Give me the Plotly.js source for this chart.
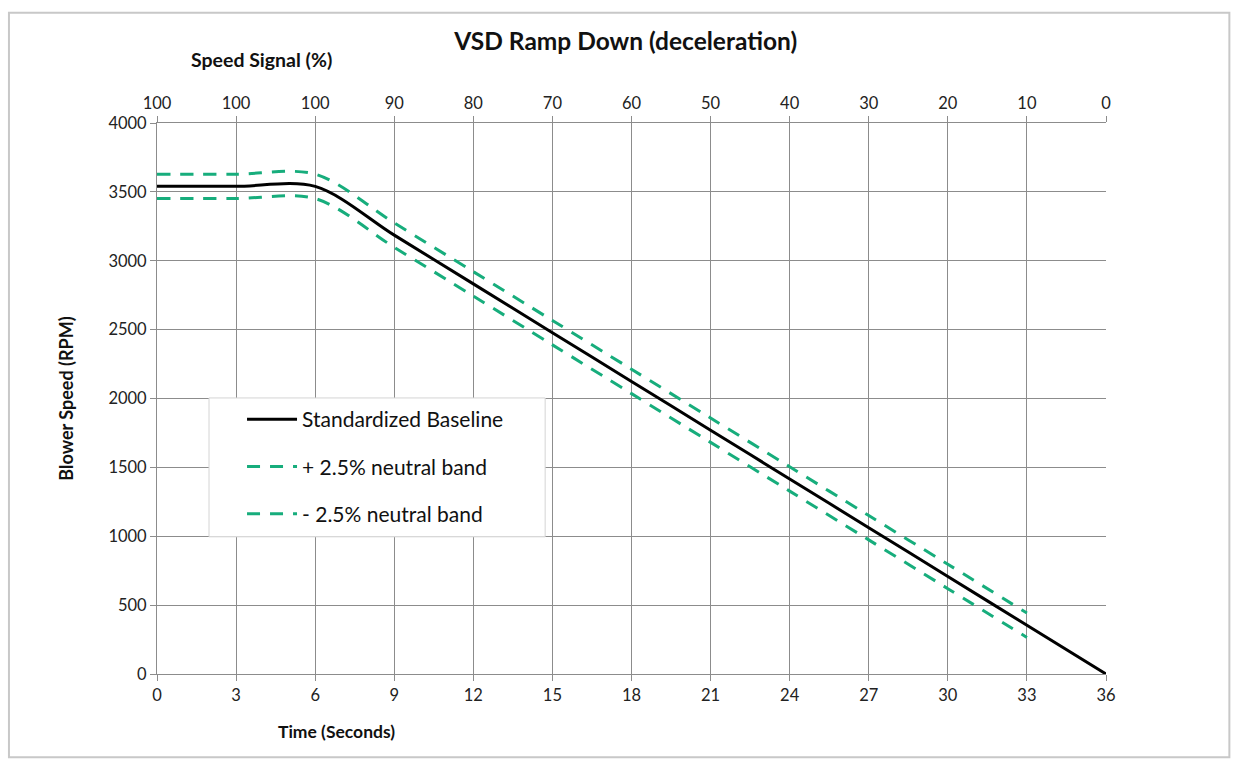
<!DOCTYPE html>
<html>
<head>
<meta charset="utf-8">
<script src="https://cdn.plot.ly/plotly-3.0.1.min.js"></script>
<style>html,body{margin:0;padding:0;background:#fff;}#chart{width:1239px;height:761px;}</style>
</head>
<body>
<div id="chart"></div>
<script>
// Data
const timeSeconds = [0, 3, 6, 9, 12, 15, 18, 21, 24, 27, 30, 33, 36];
const baselineRPM = [3540, 3540, 3540, 3186, 2832, 2478, 2124, 1770, 1416, 1062, 708, 354, 0];
const bandTime = [0, 3, 6, 9, 12, 15, 18, 21, 24, 27, 30, 33];
const upperBandRPM = [3628.5, 3628.5, 3628.5, 3274.5, 2920.5, 2566.5, 2212.5, 1858.5, 1504.5, 1150.5, 796.5, 442.5];
const lowerBandRPM = [3451.5, 3451.5, 3451.5, 3097.5, 2743.5, 2389.5, 2035.5, 1681.5, 1327.5, 973.5, 619.5, 265.5];
const speedSignalTicks = ["100", "100", "100", "90", "80", "70", "60", "50", "40", "30", "20", "10", "0"];

const FONT = "Lato, 'Open Sans', sans-serif";
const green = "#17ad7c";

const traces = [
  {x: timeSeconds, y: baselineRPM, type: "scatter", mode: "lines", name: "Standardized Baseline",
   legendgroup: "a", line: {color: "#000", width: 3, shape: "spline", smoothing: 0.9}},
  {x: bandTime, y: upperBandRPM, type: "scatter", mode: "lines", name: "+ 2.5% neutral band",
   legendgroup: "b", line: {color: green, width: 3, dash: "13px,10px", shape: "spline", smoothing: 0.9}},
  {x: bandTime, y: lowerBandRPM, type: "scatter", mode: "lines", name: "- 2.5% neutral band",
   legendgroup: "c", line: {color: green, width: 3, dash: "13px,10px", shape: "spline", smoothing: 0.9}},
  {x: timeSeconds, y: baselineRPM, xaxis: "x2", type: "scatter", mode: "lines",
   line: {width: 0}, opacity: 0, showlegend: false, hoverinfo: "skip"}
];

const layout = {
  width: 1239, height: 761,
  margin: {l: 157, r: 133, t: 123, b: 87},
  paper_bgcolor: "#fff", plot_bgcolor: "#fff",
  font: {family: FONT, color: "#222", size: 16},
  title: {text: "<b>VSD Ramp Down (deceleration)</b>", x: 0.505, xanchor: "center", y: 0.945, yanchor: "middle",
          font: {family: FONT, size: 24.5, color: "#111"}},
  showlegend: true,
  legend: {x: 0.0896, y: 0.499, xanchor: "left", yanchor: "top", bgcolor: "rgba(0,0,0,0)",
           borderwidth: 0, font: {family: FONT, size: 21, color: "#111"},
           itemwidth: 50, tracegroupgap: 17, traceorder: "grouped"},
  xaxis: {range: [0, 36], tickvals: timeSeconds, ticktext: timeSeconds.map(String),
          showgrid: true, gridcolor: "#8c8c8c", gridwidth: 1, zeroline: false,
          showline: true, linecolor: "#8c8c8c", linewidth: 1,
          ticks: "outside", ticklen: 6, tickcolor: "#8c8c8c",
          tickfont: {family: FONT, size: 16.5, color: "#222"}},
  xaxis2: {overlaying: "x", side: "top", range: [0, 36], tickvals: timeSeconds, ticktext: speedSignalTicks,
           showgrid: false, zeroline: false, showline: true, linecolor: "#8c8c8c",
           ticks: "outside", ticklen: 6, tickcolor: "#8c8c8c",
           tickfont: {family: FONT, size: 16.5, color: "#222"}},
  yaxis: {range: [0, 4000], tickvals: [0,500,1000,1500,2000,2500,3000,3500,4000],
          showgrid: true, gridcolor: "#8c8c8c", gridwidth: 1, zeroline: false,
          showline: true, linecolor: "#8c8c8c", ticks: "outside", ticklen: 6, tickcolor: "#8c8c8c",
          tickfont: {family: FONT, size: 16.5, color: "#222"},
          title: {text: "<b>Blower Speed (RPM)</b>", font: {family: FONT, size: 18, color: "#111"}, standoff: 30}},
  annotations: [
    {text: "<b>Speed Signal (%)</b>", xref: "paper", yref: "paper", x: 0.11, y: 1.115,
     xanchor: "center", yanchor: "middle", showarrow: false, font: {family: FONT, size: 19.5, color: "#111"}},
    {text: "<b>Time (Seconds)</b>", xref: "paper", yref: "paper", x: 0.189, y: -0.105,
     xanchor: "center", yanchor: "middle", showarrow: false, font: {family: FONT, size: 17.5, color: "#111"}}
  ],
  shapes: [
    {type: "rect", xref: "paper", yref: "paper", x0: -0.156, x1: 1.13, y0: -0.151, y1: 1.2,
     line: {color: "#c8c8c8", width: 2}, fillcolor: "rgba(0,0,0,0)", layer: "below"},
    {type: "rect", xref: "paper", yref: "paper", x0: 0.0548, x1: 0.409, y0: 0.249, y1: 0.501,
     line: {color: "#d4d4d4", width: 1}, fillcolor: "#fff", layer: "above"}
  ]
};

Plotly.newPlot("chart", traces, layout, {displayModeBar: false, staticPlot: true});
</script>
</body>
</html>
